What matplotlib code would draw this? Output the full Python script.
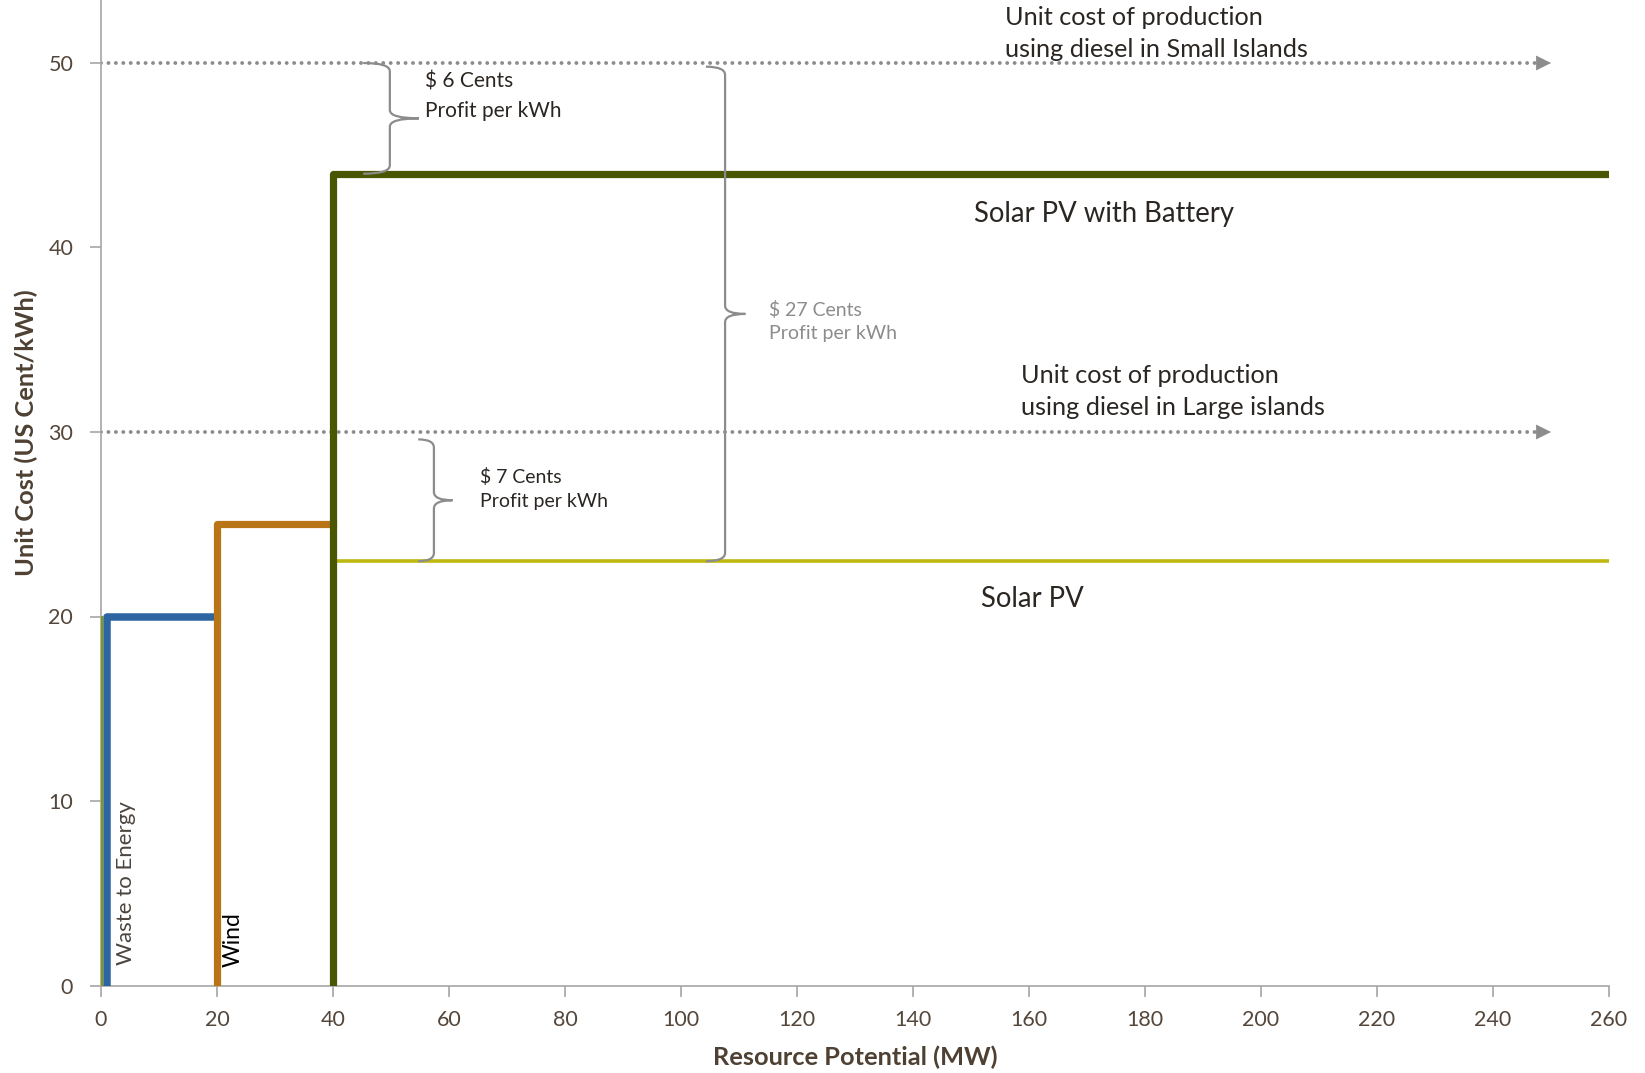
import matplotlib.pyplot as plt
from matplotlib.path import Path
from matplotlib.patches import PathPatch

plt.rcParams["font.family"] = ["Lato", "DejaVu Sans"]

# supply steps: (x start, x end, unit cost)
waste_x = [1, 1, 20]
waste_y = [0, 20, 20]
wind_x = [20, 20, 40]
wind_y = [0, 25, 25]
battery_x = [40, 40, 260]
battery_y = [0, 44, 44]
solar_x = [40, 260]
solar_y = [23, 23]
edge_x = [0, 0]
edge_y = [0, 20]

diesel_small = 50
diesel_large = 30
diesel_end = 250

xticks = list(range(0, 261, 20))
yticks = list(range(0, 51, 10))

TXT = "#2b2622"
TICK = "#54463a"
GREY = "#8c8c8c"

fig = plt.figure(figsize=(16.45, 10.73), dpi=100)
ax = fig.add_axes([101 / 1645, 1 - 985.5 / 1073, 1508 / 1645, 985.5 / 1073])
ax.set_xlim(0, 260)
ax.set_ylim(0, 985.5 / 18.45)

# diesel reference lines with arrow heads
for lvl in (diesel_small, diesel_large):
    ax.plot([0, diesel_end - 2.6], [lvl, lvl], color=GREY, lw=2.8,
            linestyle=(0, (0.01, 1.9)), dash_capstyle="round", zorder=2)
    ax.annotate("", xy=(diesel_end, lvl), xytext=(diesel_end - 2.7, lvl),
                arrowprops=dict(arrowstyle="-|>,head_length=1.0,head_width=0.5",
                                color=GREY, lw=0.5, shrinkA=0, shrinkB=0))

ax.plot(edge_x, edge_y, color="#7f9a0c", lw=2.2, zorder=3)
ax.plot(solar_x, solar_y, color="#bfb80f", lw=2.6, zorder=3)
ax.plot(waste_x, waste_y, color="#2d64a2", lw=5.4, solid_joinstyle="round", zorder=4)
ax.plot(wind_x, wind_y, color="#b87415", lw=5.2, solid_joinstyle="round", zorder=4)
ax.plot(battery_x, battery_y, color="#4a5601", lw=5.2, solid_joinstyle="round", zorder=5)


def brace(x, y0, y1, x_end, x_tip, ry=0.45):
    ym = (y0 + y1) / 2
    verts = [
        (x_end, y1), (x, y1), (x, y1 - ry),
        (x, ym + ry), (x, ym), (x_tip, ym),
        (x, ym), (x, ym - ry),
        (x, y0 + ry), (x, y0), (x_end, y0),
    ]
    codes = [Path.MOVETO, Path.CURVE3, Path.CURVE3,
             Path.LINETO, Path.CURVE3, Path.CURVE3,
             Path.CURVE3, Path.CURVE3,
             Path.LINETO, Path.CURVE3, Path.CURVE3]
    ax.add_patch(PathPatch(Path(verts, codes), fill=False, ec=GREY, lw=1.6, zorder=6))


brace(49.8, 44, 50, 45.2, 54.8)
brace(57.4, 23, 29.6, 54.7, 60.6)
brace(107.6, 23, 49.8, 104.3, 111.1)

ax.text(155.9, 51.6, "Unit cost of production\nusing diesel in Small Islands",
        fontsize=18.2, color=TXT, ha="left", va="center", linespacing=1.5)
ax.text(158.6, 32.2, "Unit cost of production\nusing diesel in Large islands",
        fontsize=18.2, color=TXT, ha="left", va="center", linespacing=1.5)
ax.text(150.6, 41.8, "Solar PV with Battery", fontsize=19.8, color=TXT,
        ha="left", va="center")
ax.text(151.7, 20.95, "Solar PV", fontsize=19.8, color=TXT, ha="left", va="center")
ax.text(55.9, 48.2, "$ 6 Cents\nProfit per kWh", fontsize=15, color=TXT,
        ha="left", va="center", linespacing=1.6)
ax.text(65.3, 26.9, "$ 7 Cents\nProfit per kWh", fontsize=14, color=TXT,
        ha="left", va="center", linespacing=1.5)
ax.text(115.2, 36.0, "$ 27 Cents\nProfit per kWh", fontsize=14, color=GREY,
        ha="left", va="center", linespacing=1.45)
ax.text(4.3, 1.1, "Waste to Energy", fontsize=16, color="#4d4640", rotation=90,
        ha="center", va="bottom")
ax.text(22.8, 1.0, "Wind", fontsize=16.5, color="black", rotation=90,
        ha="center", va="bottom")

for s in ("top", "right"):
    ax.spines[s].set_visible(False)
for s in ("left", "bottom"):
    ax.spines[s].set_color("#a6a6a6")
    ax.spines[s].set_linewidth(1.2)

ax.set_xticks(xticks)
ax.set_yticks(yticks)
ax.tick_params(axis="both", colors="#a6a6a6", labelcolor=TICK, labelsize=15.5,
               length=8, width=1.2, direction="out")
ax.tick_params(axis="y", pad=12)
ax.tick_params(axis="x", pad=10)

ax.set_xlabel("Resource Potential (MW)", fontsize=18.3, fontweight="bold", color="#4e4032",
              labelpad=11)
ax.set_ylabel("Unit Cost (US Cent/kWh)", fontsize=18.3, fontweight="bold", color="#4e4032")
ax.yaxis.set_label_coords(-0.042, 0.561)

fig.savefig("out.png", dpi=100)
